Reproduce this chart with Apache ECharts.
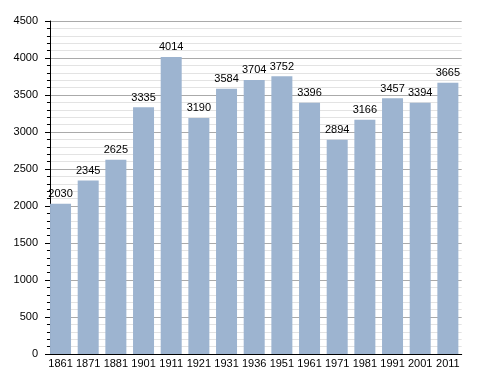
<!DOCTYPE html>
<html><head><meta charset="utf-8">
<script src="https://cdn.jsdelivr.net/npm/echarts@6/dist/echarts.min.js"></script>
<style>html,body{margin:0;padding:0;background:#fff}#c{width:488px;height:373px}</style>
</head><body><div id="c"></div>
<script>
const years = ['1861','1871','1881','1901','1911','1921','1931','1936','1951','1961','1971','1981','1991','2001','2011'];
const population = [2030,2345,2625,3335,4014,3190,3584,3704,3752,3396,2894,3166,3457,3394,3665];
const yTicks = {min:0, max:4500, interval:500};

const chart = echarts.init(document.getElementById('c'), null, {renderer:'canvas'});
chart.setOption({
  animation:false,
  backgroundColor:'#fff',
  textStyle:{fontFamily:'Liberation Sans, Arial, sans-serif'},
  grid:{left:46.7, right:26.3, top:21, bottom:19, containLabel:false},
  xAxis:{
    type:'category', data:years, boundaryGap:true,
    axisLine:{show:true, lineStyle:{color:'#000', width:1}},
    axisTick:{show:false},
    axisLabel:{color:'#000', fontSize:11, margin:4, interval:0}
  },
  yAxis:{
    type:'value', min:yTicks.min, max:yTicks.max, interval:yTicks.interval,
    offset:-3.3,
    axisLine:{show:true, lineStyle:{color:'#000', width:1}},
    axisTick:{show:true, length:5, lineStyle:{color:'#000'}},
    minorTick:{show:true, splitNumber:5, length:3, lineStyle:{color:'#000'}},
    axisLabel:{color:'#000', fontSize:11, margin:12, formatter:function(v){return String(v);}},
    splitLine:{show:true, lineStyle:{color:'#aaaaaa', width:1}},
    minorSplitLine:{show:true, lineStyle:{color:'#e3e3e3', width:1}}
  },
  series:[{
    type:'bar', data:population, barWidth:21,
    itemStyle:{color:'#9db4d0'},
    label:{show:true, position:'top', color:'#000', fontSize:11, distance:4}
  }]
});
</script></body></html>
